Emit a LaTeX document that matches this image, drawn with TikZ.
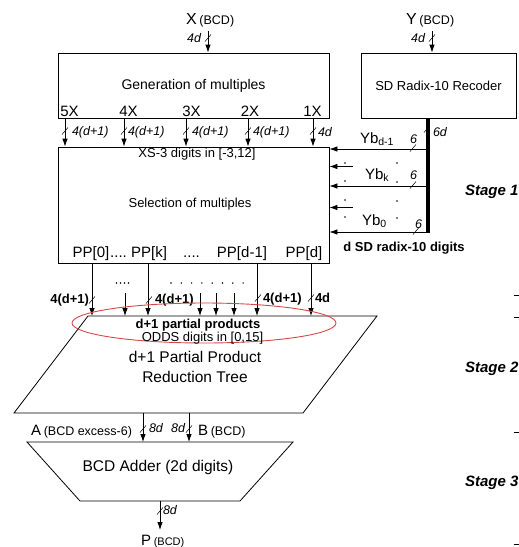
\documentclass[tikz,border=0pt]{standalone}
\usepackage{fontspec}
\setmainfont{Liberation Sans}
\usetikzlibrary{arrows.meta,shapes.geometric}
\definecolor{hlred}{RGB}{214,72,72}
\newcommand\bmark[1]{\draw[slashmk] (#1) ++(-3,3.5) -- ++(6,-7);}
\begin{document}
\begin{tikzpicture}[x=1pt,y=-1pt,line width=0.8pt,
  arr/.style={-{Latex[length=8pt,width=5.5pt]}},
  box/.style={draw,inner sep=0pt},
  lbl/.style={inner sep=0pt,outer sep=0pt},
  it/.style={lbl,font=\fontsize{12.5}{13}\selectfont\itshape},
  bd/.style={lbl,font=\fontsize{13}{13}\selectfont\bfseries},
  tx/.style={lbl,font=\fontsize{13}{13}\selectfont},
  big/.style={lbl,font=\fontsize{15}{15}\selectfont},
  stg/.style={lbl,anchor=west,font=\fontsize{15}{15}\selectfont\bfseries\itshape},
  slashmk/.style={line width=0.5pt},
  dotc/.style={fill,inner sep=0pt,minimum size=1.8pt,circle},
  bus/.style={line width=3.5pt}]
\useasboundingbox (0,0) rectangle (519,547);

% ---- top inputs
\node[lbl,anchor=base west] (xlab) at (186,24) {{\fontsize{16}{16}\selectfont X} {\fontsize{12.5}{13}\selectfont(BCD)}};
\node[lbl,anchor=base west] (ylab) at (406,24) {{\fontsize{16}{16}\selectfont Y} {\fontsize{12.5}{13}\selectfont(BCD)}};
\coordinate (xin) at (208,31);
\coordinate (yin) at (432,31);

% ---- boxes
\node[box,minimum width=271pt,minimum height=65pt,font=\fontsize{14}{14}\selectfont] (gen) at (193.5,85.5) {Generation of multiples};
\node[box,minimum width=155pt,minimum height=65pt,font=\fontsize{13}{13}\selectfont] (rec) at (438.5,85.5) {SD Radix-10 Recoder};
\node[box,minimum width=271pt,minimum height=116pt] (sel) at (193.5,205) {};
\node[tx] (selt) at (190,204) {Selection of multiples};
\node[tx] (xs3) at (197,154) {XS-3 digits in [-3,12]};

\draw[arr] (xin) -- (xin |- gen.north);
\draw[arr] (yin) -- (yin |- rec.north);
\bmark{208,38} \node[it,anchor=east] (x4d) at (201,38) {4d};
\bmark{432,38} \node[it,anchor=east] (y4d) at (425,38) {4d};

% ---- multiples
\node[big,anchor=base] (m5) at (69.5,116) {5X};
\node[big,anchor=base] (m4) at (128.5,116) {4X};
\node[big,anchor=base] (m3) at (191.5,116) {3X};
\node[big,anchor=base] (m2) at (250,116) {2X};
\node[big,anchor=base] (m1) at (312.5,116) {1X};
\foreach \n/\x in {5/65,4/124,3/186,2/248,1/313}{
  \coordinate (c\n) at (\x,0);
  \draw[arr] (gen.south -| c\n) -- (sel.north -| c\n);
  \bmark{\x,131}
}
\node[it,anchor=west] (l5) at (72,132) {4(d+1)};
\node[it,anchor=west] (l4) at (128,132) {4(d+1)};
\node[it,anchor=west] (l3) at (192,132) {4(d+1)};
\node[it,anchor=west] (l2) at (253,132) {4(d+1)};
\node[it,anchor=west] (l1) at (318,132) {4d};

% ---- PP labels
\node[big,anchor=base] (pp0) at (91,257) {PP[0]};
\node[big,anchor=base] (d1) at (118.5,257) {....};
\node[big,anchor=base] (ppk) at (149,257) {PP[k]};
\node[big,anchor=base] (d2) at (191.5,257) {....};
\node[big,anchor=base] (ppd1) at (242,257) {PP[d-1]};
\node[big,anchor=base] (ppd) at (304,257) {PP[d]};

% ---- recoder bus and digit arrows
\coordinate (bx) at (428,0);
\coordinate (bend) at (428,232.5);
\draw[bus] (rec.south -| bx) -- (bend);
\bmark{427,129}
\node[it,anchor=west] (l6d) at (433,132) {6d};
\foreach \n/\y in {a/149,b/186,c/232}{
  \coordinate (h\n) at (428,\y);
  \draw[arr] (h\n) -- (sel.east |- h\n);
}
\bmark{413,148} \bmark{413,185} \bmark{416,231}
\node[big,anchor=base west] (yb1) at (360,143) {Yb\textsubscript{d-1}};
\node[big,anchor=base west] (ybk) at (365,179) {Yb\textsubscript{k}};
\node[big,anchor=base west] (yb0) at (362,225) {Yb\textsubscript{0}};
\node[it,anchor=base] (s1) at (413.5,143) {6};
\node[it,anchor=base] (s2) at (413.5,179) {6};
\node[it,anchor=base] (s3) at (418.5,228) {6};
\coordinate (sa) at (353,166.5);
\coordinate (sb) at (353,207.5);
\draw[arr] (sa) -- (sel.east |- sa);
\draw[arr] (sb) -- (sel.east |- sb);
\foreach \y in {163,181,200,217} \node[dotc] at (345,\y) {};
\foreach \y in {163,182,201,218} \node[dotc] at (397,\y) {};
\node[bd] (sdd) at (404,248) {d SD radix-10 digits};

% ---- reduction tree
\coordinate (pa) at (88,316);
\coordinate (pb) at (377,316);
\coordinate (pc) at (303,413);
\coordinate (pd) at (14,413);
\draw (pa) -- (pb) -- (pc) -- (pd) -- cycle;
\foreach \n/\x in {0/92,k/148,m/257,d/311}{
  \coordinate (q\n) at (\x,0);
  \draw[arr] (sel.south -| q\n) -- (pa -| q\n);
}
\foreach \x in {125,200,216,234}{
  \coordinate (r) at (\x,293);
  \draw[arr] (r) -- (pa -| r);
}
\foreach \x in {116.5,120.5,124.5,128.5} \node[dotc,minimum size=1.6pt] at (\x,283) {};
\foreach \i in {0,...,7} \node[dotc,minimum size=1.6pt] at (171+\i*10.3,283) {};
\bmark{92,300} \bmark{149,300} \bmark{258,298} \bmark{311,298}
\node[bd,anchor=east] (b1) at (89,300) {4(d+1)};
\node[bd,anchor=west] (b2) at (155,300) {4(d+1)};
\node[bd,anchor=west] (b3) at (263,299) {4(d+1)};
\node[bd,anchor=west] (b4) at (315,298) {4d};

\node[draw=hlred,ellipse,line width=0.9pt,minimum width=264pt,minimum height=40pt,inner sep=0pt] (hl) at (204,323) {};
\node[bd] (dpp) at (198,325) {d+1 partial products};
\node[tx] (odds) at (202.5,338) {ODDS digits in [0,15]};
\node[lbl,font=\fontsize{15.5}{15.5}\selectfont] (rt1) at (195,357) {d+1 Partial Product};
\node[lbl,font=\fontsize{15.5}{15.5}\selectfont] (rt2) at (195,377) {Reduction Tree};

% ---- adder
\coordinate (ta) at (27,442);
\coordinate (tb) at (293,442);
\coordinate (tc) at (240,501);
\coordinate (td) at (80,501);
\draw (ta) -- (tb) -- (tc) -- (td) -- cycle;
\node[lbl,font=\fontsize{15.5}{15.5}\selectfont] (addt) at (158,467) {BCD Adder (2d digits)};
\coordinate (ax) at (143,0);
\coordinate (bxx) at (189,0);
\draw[arr] (pd -| ax) -- (ta -| ax);
\draw[arr] (pd -| bxx) -- (ta -| bxx);
\bmark{143,429} \bmark{189,429}
\node[it,anchor=west] (a8) at (149,428) {8d};
\node[it,anchor=east] (b8) at (185,428) {8d};
\node[lbl,anchor=base west] (alab) at (31,435) {{\fontsize{15}{15}\selectfont A} {\fontsize{12.5}{13}\selectfont(BCD excess-6)}};
\node[lbl,anchor=base west] (blab) at (198,435) {{\fontsize{15}{15}\selectfont B} {\fontsize{12.5}{13}\selectfont(BCD)}};
\coordinate (px) at (160,530);
\draw[arr] (td -| px) -- (px);
\bmark{160,511}
\node[it,anchor=west] (p8) at (163,510) {8d};
\node[lbl,anchor=base west] (plab) at (141,545) {{\fontsize{15}{15}\selectfont P} {\fontsize{11}{12}\selectfont(BCD)}};

% ---- stages
\node[stg] (st1) at (465,192) {Stage 1};
\node[stg] (st2) at (465,369) {Stage 2};
\node[stg] (st3) at (465,483) {Stage 3};
\foreach \y in {295,317,432,544} \draw[line width=0.6pt] (514,\y) -- (519,\y);
\end{tikzpicture}
\end{document}
